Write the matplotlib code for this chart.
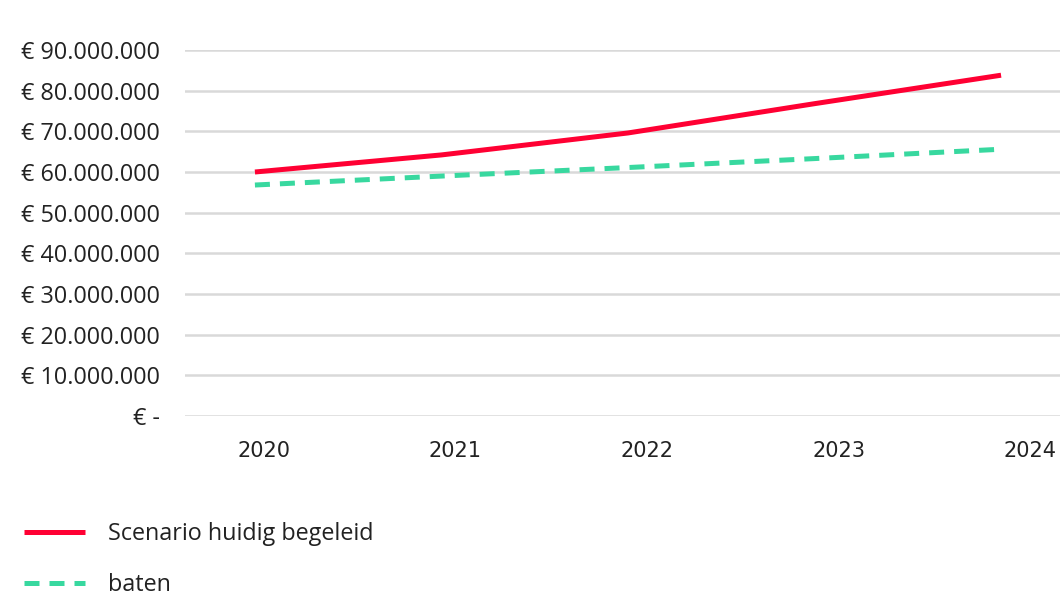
import matplotlib.pyplot as plt
from matplotlib.ticker import FuncFormatter

# data
years = ['2020', '2021', '2022', '2023', '2024']
scenario = [60.0e6, 64.2e6, 69.6e6, 76.8e6, 83.8e6]
baten = [56.8e6, 59.0e6, 61.1e6, 63.3e6, 65.6e6]
yticks = [i * 10e6 for i in range(10)]

plt.rcParams['font.family'] = ['Open Sans', 'DejaVu Sans']

fig = plt.figure(figsize=(10.6, 5.98), dpi=100)
ax = fig.add_axes([0.1745, 0.3043, 0.8255, 0.6121])

x = list(range(len(years)))
l1, = ax.plot(x, scenario, color='#ff0033', lw=3.6, solid_capstyle='butt',
              label='Scenario huidig begeleid')
l2, = ax.plot(x, baten, color='#38d89f', lw=3.6, dashes=(3, 2),
              dash_capstyle='butt', label='baten')

ax.set_ylim(0, 90e6)
ax.set_xlim(-0.375, 4.316)
ax.set_yticks(yticks)
ax.yaxis.set_major_formatter(FuncFormatter(
    lambda v, p: '€ -' if v == 0 else '€ ' + f'{v:,.0f}'.replace(',', '.')))

# category labels sit slightly wider apart than the points
ax.set_xticks([0.048 + 1.027 * i for i in x])
ax.set_xticklabels(years, family=['Liberation Sans Narrow', 'DejaVu Sans'],
                   fontsize=15)

ax.grid(axis='y', color='#d9d9d9', lw=1.8)
ax.set_axisbelow(True)
for s in ax.spines.values():
    s.set_visible(False)
ax.tick_params(axis='both', length=0, colors='#222222')
ax.tick_params(axis='y', pad=18, labelsize=16.8)
ax.tick_params(axis='x', pad=18)

fig.legend(handles=[l1, l2], loc='upper left', bbox_to_anchor=(0.003, 0.162),
           frameon=False, fontsize=16.8, handlelength=2.6, handletextpad=1.0,
           labelspacing=1.15, labelcolor='#222222')

fig.savefig('out.png', dpi=100)
